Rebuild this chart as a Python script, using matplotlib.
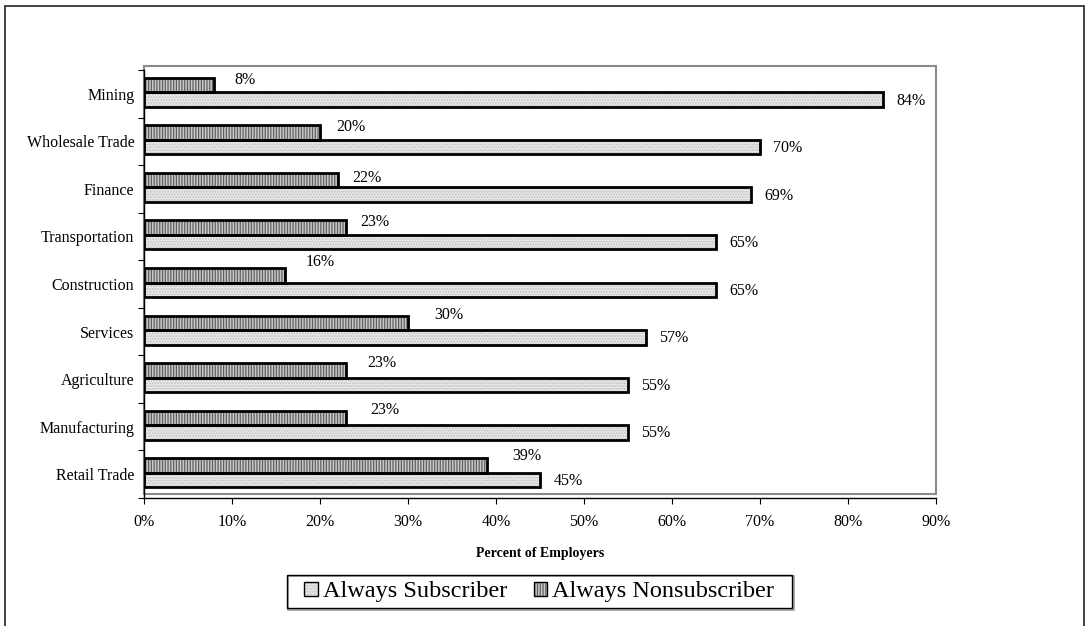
import matplotlib
matplotlib.use("Agg")
import matplotlib.pyplot as plt
from matplotlib.patches import Rectangle, Patch
from matplotlib.legend_handler import HandlerBase

# ---- data -------------------------------------------------------------
categories = ["Mining", "Wholesale Trade", "Finance", "Transportation",
              "Construction", "Services", "Agriculture", "Manufacturing",
              "Retail Trade"]
always_subscriber = [84, 70, 69, 65, 65, 57, 55, 55, 45]
always_nonsubscriber = [8, 20, 22, 23, 16, 30, 23, 23, 39]
x_ticks = [0, 10, 20, 30, 40, 50, 60, 70, 80, 90]

# nudges (pixels) for the nonsubscriber value labels
nonsub_label_dx = [31, 31, 29, 28, 35, 41, 35, 38, 40]
nonsub_label_dy = [5, 6, 2, 6, 13, 8, 7, 8, 9]
sub_label_dx = 28
sub_label_dy = -1

# ---- styling ----------------------------------------------------------
plt.rcParams["font.family"] = ["Liberation Serif", "DejaVu Serif"]
plt.rcParams["hatch.linewidth"] = 0.9

W, H, DPI = 1091, 626, 100
fig = plt.figure(figsize=(W / DPI, H / DPI), dpi=DPI)
fig.patch.set_facecolor("white")


def frac_box(x0, y0, x1, y1):
    return [x0 / W, 1 - y1 / H, (x1 - x0) / W, (y1 - y0) / H]


def frame(x0, y0, x1, y1, color, lw, z):
    fig.add_artist(Rectangle((x0 / W, 1 - y1 / H), (x1 - x0) / W, (y1 - y0) / H,
                             transform=fig.transFigure, fill=False,
                             edgecolor=color, lw=lw, zorder=z))


# outer chart border, grey plot-area frame, legend box
frame(5, 6, 1084, 640, "#222222", 1.2, -2)
frame(144, 66, 936, 494, "#8a8a8a", 1.5, -1)
frame(288, 609 - 33, 794, 610, "#9a9a9a", 1.2, -1)
frame(287, 575, 792, 608, "black", 1.0, -1)

ax = fig.add_axes(frac_box(144, 66, 936, 498))
ax.patch.set_alpha(0)

n = len(categories)
band_px = 428 / n
ax.set_xlim(0, 90)
ax.set_ylim(-0.5, -0.5 + 432 / band_px)

ypos = [n - 1 - i for i in range(n)]
bar_h = 14.5 / band_px
shift = 1.5 / band_px
nonsub_y = [y + shift + bar_h / 2 for y in ypos]
sub_y = [y + shift - bar_h / 2 for y in ypos]

SUB_FACE = "#e8e8e8"
SUB_HATCH = "#c0c0c0"
NON_FACE = "#c8c8c8"
NON_HATCH = "#606060"
OUT_LW = 2.0

# subscriber bars
ax.barh(sub_y, always_subscriber, height=bar_h, color=SUB_FACE,
        edgecolor=SUB_HATCH, hatch="......", linewidth=0, zorder=2)
ax.barh(sub_y, always_subscriber, height=bar_h, fill=False,
        edgecolor="black", linewidth=OUT_LW, zorder=3)
# nonsubscriber bars
ax.barh(nonsub_y, always_nonsubscriber, height=bar_h, color=NON_FACE,
        edgecolor=NON_HATCH, hatch="||||||", linewidth=0, zorder=2)
ax.barh(nonsub_y, always_nonsubscriber, height=bar_h, fill=False,
        edgecolor="black", linewidth=OUT_LW, zorder=3)

FS = 11.5
for i in range(n):
    ax.annotate(f"{always_nonsubscriber[i]}%", xy=(always_nonsubscriber[i], nonsub_y[i]),
                xytext=(nonsub_label_dx[i], nonsub_label_dy[i]),
                textcoords="offset pixels", ha="center", va="center",
                fontsize=FS, annotation_clip=False)
    ax.annotate(f"{always_subscriber[i]}%", xy=(always_subscriber[i], sub_y[i]),
                xytext=(sub_label_dx, sub_label_dy),
                textcoords="offset pixels", ha="center", va="center",
                fontsize=FS, annotation_clip=False)

# axes, ticks
for s in ("top", "right"):
    ax.spines[s].set_visible(False)
ax.spines["left"].set_bounds(-0.5, n - 0.5)
ax.spines["left"].set_linewidth(1.0)
ax.spines["bottom"].set_linewidth(1.0)

ax.set_xticks(x_ticks)
ax.set_xticklabels([f"{t}%" for t in x_ticks], fontsize=FS)
ax.tick_params(axis="x", length=4.3, width=0.8, pad=7, direction="out")

ax.set_yticks(ypos)
ax.set_yticklabels(categories, fontsize=FS)
ax.set_yticks([k - 0.5 for k in range(n + 1)], minor=True)
ax.tick_params(axis="y", which="major", length=0, pad=7)
ax.tick_params(axis="y", which="minor", length=4.3, width=0.8, direction="out")

fig.text(540 / W, 1 - 553 / H, "Percent of Employers", ha="center",
         va="center", fontsize=10, fontweight="bold")


# legend keys: patterned square with a black outline
class PatternKey(HandlerBase):
    def __init__(self, face, hatch_color, hatch):
        super().__init__()
        self.face, self.hatch_color, self.hatch = face, hatch_color, hatch

    def create_artists(self, legend, orig_handle, xdescent, ydescent,
                       width, height, fontsize, trans):
        fill = Rectangle((-xdescent, -ydescent), width, height,
                         facecolor=self.face, edgecolor=self.hatch_color,
                         hatch=self.hatch, linewidth=0, transform=trans)
        outline = Rectangle((-xdescent, -ydescent), width, height,
                            fill=False, edgecolor="black", linewidth=1.0,
                            transform=trans)
        return [fill, outline]


sub_key = Patch()
non_key = Patch()
leg = fig.legend([sub_key, non_key], ["Always Subscriber", "Always Nonsubscriber"],
                 handler_map={sub_key: PatternKey(SUB_FACE, SUB_HATCH, "......"),
                              non_key: PatternKey(NON_FACE, NON_HATCH, "||||||")},
                 loc="center", bbox_to_anchor=(539 / W, 1 - 592 / H), ncol=2,
                 fontsize=17.5, frameon=False,
                 handlelength=0.55, handleheight=0.55, handletextpad=0.2,
                 columnspacing=1.1, borderpad=0.25, borderaxespad=0)

fig.savefig("out.png", dpi=DPI)
